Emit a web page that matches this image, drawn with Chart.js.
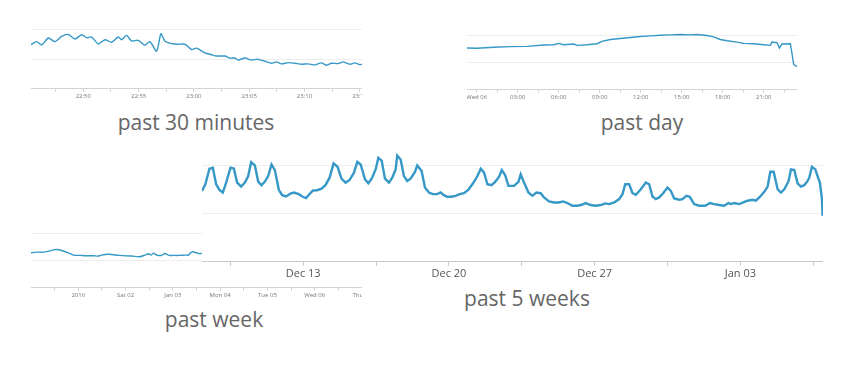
<!DOCTYPE html>
<html>
<head>
<meta charset="utf-8">
<script src="https://cdn.jsdelivr.net/npm/chart.js@4/dist/chart.umd.min.js"></script>
<style>
  body { margin: 0; width: 854px; height: 366px; background: #fff; position: relative; overflow: hidden; font-family: "Open Sans", sans-serif; }
  .box { position: absolute; }
  .box canvas { display: block; }
  .title { position: absolute; font-size: 21px; line-height: 21px; color: #666; white-space: nowrap; transform: translateX(-50%); }
</style>
</head>
<body>
<div class="box" style="left:31px;top:21px;width:331px;height:80px"><canvas id="chart30"></canvas></div>
<div class="box" style="left:467px;top:27px;width:330px;height:75px"><canvas id="chartDay"></canvas></div>
<div class="box" style="left:31px;top:225px;width:331px;height:75px"><canvas id="chartWeek"></canvas></div>
<div class="box" style="left:202px;top:151px;width:621px;height:130px;background:#fff;z-index:2"><canvas id="chart5w"></canvas></div>

<div class="title" style="left:196px;top:112px">past 30 minutes</div>
<div class="title" style="left:642px;top:112px">past day</div>
<div class="title" style="left:214px;top:309px">past week</div>
<div class="title" style="left:527px;top:288px;z-index:3">past 5 weeks</div>

<script>
// past 30 minutes: minutes after 22:00
const minuteTimes = [45.27, 45.78, 46.23, 46.84, 47.44, 48.04, 48.64, 49.25, 49.85, 50.3, 50.75, 51.36, 51.96, 52.56, 53.16, 53.46, 53.92, 54.37, 54.97, 55.57, 56.02, 56.63, 57.02, 57.38, 57.98, 58.58, 59.19, 59.79, 60.24, 60.99, 61.6, 62.05, 62.8, 63.25, 63.7, 64.01, 64.61, 65.21, 65.81, 66.42, 67.02, 67.47, 67.92, 68.52, 69.13, 69.73, 70.33, 70.93, 71.54, 71.99, 72.44, 73.04, 73.49, 74.1, 74.55, 75.0, 75.2];
const minuteValues = [75, 80, 74.4, 86.1, 80, 88.9, 92.2, 84.4, 91.7, 86.7, 87.8, 76.1, 83.3, 78.9, 87.8, 83.3, 90.6, 81.1, 82.2, 73.9, 80, 63.9, 93.3, 80.6, 76.7, 75.6, 75.6, 66.7, 68.9, 61.1, 57.8, 55.6, 55.6, 52.2, 52.2, 48.9, 52.2, 48.9, 50, 46.7, 43.3, 45.6, 42.2, 44.4, 43.3, 41.7, 42.2, 40.6, 43.9, 40, 43.3, 42.8, 45.6, 41.7, 43.9, 41.1, 41.5];
const minuteTicks = [50, 55, 60, 65, 70, 75];
const minuteLabels = ['22:50', '22:55', '23:00', '23:05', '23:10', '23:15'];

// past day: hours after Wed 06 00:00
const dayTimes = [-0.71, 0.02, 1.24, 2.46, 3.68, 4.9, 5.63, 6.0, 6.37, 7.1, 7.34, 8.07, 8.8, 9.17, 9.78, 10.51, 11.24, 11.98, 12.71, 13.44, 14.17, 14.9, 15.63, 16.12, 16.85, 17.34, 17.83, 18.32, 19.05, 19.54, 20.27, 21.0, 21.49, 21.61, 21.98, 22.15, 22.34, 22.95, 23.07, 23.2, 23.44];
const dayValues = [76.6, 76, 77.8, 79, 79.6, 82, 82.6, 85, 82.6, 83.8, 81.4, 82.6, 84.4, 88.6, 92.2, 94, 95.8, 97.6, 98.8, 100, 100.6, 101.2, 100.6, 101.2, 99.4, 97, 92.2, 89.8, 87.4, 85, 84.4, 82.6, 81.4, 87.4, 86.2, 76.6, 83.8, 84.4, 67, 46.1, 42.5];
const dayTicks = [0, 3, 6, 9, 12, 15, 18, 21];
const dayLabels = ['Wed 06', '03:00', '06:00', '09:00', '12:00', '15:00', '18:00', '21:00'];

// past week: days after Jan 01
const weekTimes = [-1.0, -0.88, -0.74, -0.63, -0.53, -0.46, -0.35, -0.21, -0.1, 0.04, 0.18, 0.32, 0.42, 0.49, 0.56, 0.71, 0.85, 0.99, 1.13, 1.3, 1.41, 1.48, 1.54, 1.59, 1.66, 1.76, 1.83, 1.92, 2.01, 2.12, 2.26, 2.33, 2.4, 2.5, 2.57, 2.64];
const weekValues = [64.1, 65.3, 65.3, 67.1, 69.5, 70.1, 68.3, 64.1, 59.9, 59.3, 58.7, 58.7, 58.1, 59.9, 61.1, 61.1, 59.3, 58.7, 58.1, 56.9, 59.9, 62.3, 59.9, 63.5, 59.9, 59.3, 62.9, 59.3, 59.3, 59.3, 59.9, 59.9, 65.9, 64.1, 62.3, 64.1];
const weekTicks = [0, 1, 2, 3, 4, 5, 6];
const weekLabels = ['2016', 'Sat 02', 'Jan 03', 'Mon 04', 'Tue 05', 'Wed 06', 'Thu 07'];

// past 5 weeks: days after Dec 13
const fiveWeekTimes = [-4.86, -4.7, -4.5, -4.34, -4.18, -4.02, -3.86, -3.7, -3.49, -3.33, -3.17, -2.98, -2.8, -2.64, -2.5, -2.32, -2.16, -2.0, -1.84, -1.68, -1.52, -1.36, -1.17, -1.01, -0.82, -0.61, -0.45, -0.21, -0.02, 0.14, 0.27, 0.47, 0.67, 0.88, 1.07, 1.27, 1.46, 1.65, 1.84, 2.04, 2.23, 2.44, 2.6, 2.76, 2.97, 3.13, 3.29, 3.48, 3.61, 3.77, 3.93, 4.12, 4.28, 4.44, 4.52, 4.68, 4.84, 5.0, 5.16, 5.37, 5.48, 5.69, 5.85, 6.04, 6.23, 6.44, 6.6, 6.76, 6.92, 7.13, 7.32, 7.52, 7.72, 7.93, 8.16, 8.37, 8.53, 8.69, 8.85, 9.05, 9.22, 9.41, 9.54, 9.7, 9.86, 10.13, 10.34, 10.45, 10.61, 10.82, 11.01, 11.2, 11.41, 11.57, 11.81, 12.05, 12.29, 12.48, 12.69, 12.93, 13.17, 13.38, 13.57, 13.81, 14.05, 14.3, 14.5, 14.7, 14.94, 15.18, 15.34, 15.47, 15.66, 15.82, 15.98, 16.22, 16.46, 16.62, 16.78, 16.94, 17.1, 17.29, 17.5, 17.66, 17.82, 18.06, 18.22, 18.41, 18.57, 18.78, 19.02, 19.31, 19.54, 19.74, 19.98, 20.22, 20.43, 20.55, 20.71, 20.95, 21.14, 21.35, 21.59, 21.75, 21.91, 22.15, 22.31, 22.44, 22.6, 22.79, 22.95, 23.11, 23.32, 23.43, 23.59, 23.75, 23.91, 24.07, 24.23, 24.31, 24.44, 24.6, 24.71, 24.82, 24.92, 24.95];
const fiveWeekValues = [73.6, 80.5, 96.6, 97.6, 80.5, 74.7, 71.9, 82.2, 97.6, 96.9, 82.2, 78.1, 82.2, 89, 103.4, 100, 83.2, 79.5, 83.2, 89, 101, 95.2, 74.7, 69.2, 67.8, 70.9, 71.9, 70.2, 67.5, 66.1, 69.5, 74, 74.3, 76, 79.5, 87.3, 102.1, 98.6, 86.3, 82.2, 84.9, 92.5, 103.8, 101, 85.6, 81.5, 86.3, 95.9, 107.9, 105.1, 86.3, 82.2, 87.3, 95.9, 110.3, 106.2, 89, 83.9, 86.3, 93.2, 100, 94.2, 77.1, 71.9, 70.2, 70.2, 71.9, 69.2, 67.5, 67.5, 68.5, 70.2, 71.2, 74.7, 81.5, 89, 96.6, 92.5, 80.5, 79.5, 82.9, 88.4, 95.2, 90.1, 78.8, 78.8, 82.9, 90.8, 82.2, 71.9, 68.5, 71.9, 71.2, 66.8, 62.7, 61.6, 61.6, 62.7, 61, 58.2, 58.2, 59.2, 61, 58.9, 58.2, 58.9, 60.6, 59.9, 61.6, 65.1, 70.2, 80.5, 80.5, 71.2, 69.5, 75.3, 82.2, 80.5, 67.8, 65.1, 66.8, 71.2, 77.1, 73.6, 65.8, 64.4, 65.1, 68.5, 67.5, 59.9, 58.2, 58.2, 61, 59.9, 58.9, 58.2, 61, 59.9, 61, 59.9, 61.6, 63.4, 64.4, 63.4, 66.8, 72.6, 78.1, 93.5, 93.5, 75.3, 71.9, 75.3, 83.9, 95.9, 95.2, 81.5, 78.1, 79.5, 83.9, 87.3, 98.6, 95.9, 89, 82.2, 65.1, 47.9];
const fiveWeekTicks = [0, 7, 14, 21];
const fiveWeekLabels = ['Dec 13', 'Dec 20', 'Dec 27', 'Jan 03'];

const lineColor = '#3598c6';

// major ticks plus a small tick half way between them
function withMinorTicks(majors, half, min, max) {
    const all = [];
    majors.forEach(m => {
        if (m - half >= min) all.push(m - half);
        all.push(m);
    });
    const last = majors[majors.length - 1] + half;
    if (last <= max) all.push(last);
    return all;
}

function makeChart(id, xs, ys, c) {
    const tickValues = withMinorTicks(c.majors, c.half, c.min, c.max);
    return new Chart(document.getElementById(id), {
        type: 'line',
        data: {
            datasets: [{
                data: xs.map((x, i) => ({ x: x, y: ys[i] })),
                borderColor: lineColor,
                borderWidth: c.lineWidth,
                pointRadius: 0,
                tension: c.tension,
                fill: false
            }]
        },
        options: {
            responsive: true,
            maintainAspectRatio: false,
            animation: false,
            plugins: {
                legend: { display: false },
                tooltip: { enabled: false }
            },
            scales: {
                x: {
                    type: 'linear',
                    min: c.min,
                    max: c.max,
                    afterBuildTicks: s => { s.ticks = tickValues.map(v => ({ value: v })); },
                    afterFit: s => { s.paddingLeft = 0; s.paddingRight = 0; },
                    grid: { drawOnChartArea: false, tickLength: c.tickLength, tickColor: c.axisColor },
                    border: { color: c.axisColor },
                    ticks: {
                        autoSkip: false,
                        maxRotation: 0,
                        padding: 1,
                        color: c.labelColor,
                        font: { family: 'Open Sans', size: c.fontSize },
                        callback: v => {
                            const i = c.majors.findIndex(m => Math.abs(m - v) < 1e-6);
                            return i < 0 ? '' : c.labels[i];
                        }
                    }
                },
                y: {
                    min: 0,
                    max: 115,
                    afterBuildTicks: s => { s.ticks = [0, 50, 100].map(v => ({ value: v })); },
                    grid: {
                        drawTicks: false,
                        color: ctx => (ctx.tick && ctx.tick.value === 0) ? 'rgba(0,0,0,0)' : '#eeeeee'
                    },
                    border: { display: false },
                    ticks: { display: false }
                }
            }
        }
    });
}

const small = { lineWidth: 1.4, tension: 0.25, tickLength: 3, fontSize: 6, labelColor: '#777', axisColor: '#d4d4d4' };

makeChart('chart30', minuteTimes, minuteValues, Object.assign({}, small, {
    min: 45.27, max: 75.2, majors: minuteTicks, labels: minuteLabels, half: 2.5
}));
makeChart('chartDay', dayTimes, dayValues, Object.assign({}, small, {
    min: -0.71, max: 23.44, majors: dayTicks, labels: dayLabels, half: 1.5, tension: 0
}));
makeChart('chartWeek', weekTimes, weekValues, Object.assign({}, small, {
    min: -1, max: 6, majors: weekTicks, labels: weekLabels, half: 0.5
}));
makeChart('chart5w', fiveWeekTimes, fiveWeekValues, {
    min: -4.86, max: 24.97, majors: fiveWeekTicks, labels: fiveWeekLabels, half: 3.5,
    lineWidth: 2.4, tension: 0, tickLength: 4, fontSize: 11, labelColor: '#555', axisColor: '#c8c8c8'
});
</script>
</body>
</html>
